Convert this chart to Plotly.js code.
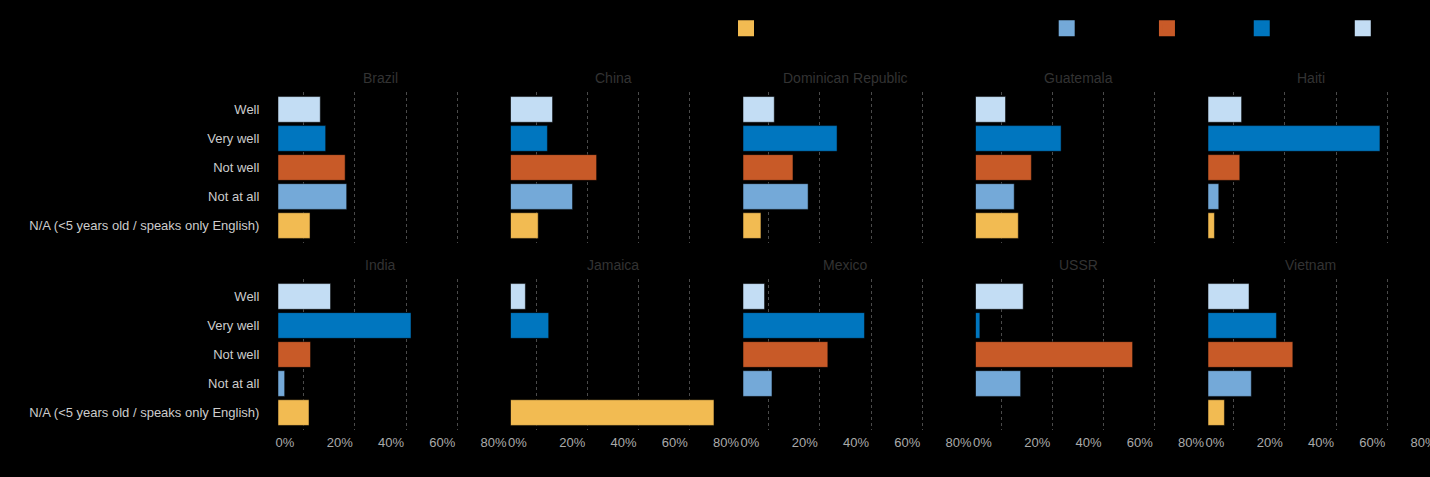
<!DOCTYPE html>
<html>
<head>
<meta charset="utf-8">
<script src="https://cdn.plot.ly/plotly-3.0.1.min.js"></script>
<style>html,body{margin:0;padding:0;background:#000;}#chart{width:1430px;height:477px;}</style>
</head>
<body>
<div id="chart"></div>
<script>
// ---- data (percent of speakers) ----
const countries = ['Brazil','China','Dominican Republic','Guatemala','Haiti','India','Jamaica','Mexico','USSR','Vietnam'];
const categories = ['N/A (<5 years old / speaks only English)','Not at all','Not well','Very well','Well'];
const naVals       = [12.5, 10.8,  7.0, 16.7,  2.5, 12.1, 79.4, null, null,  6.4];
const notAtAllVals = [26.8, 24.2, 25.4, 15.1,  4.2,  2.6, null, 11.3, 17.6, 16.9];
const notWellVals  = [26.2, 33.6, 19.5, 21.8, 12.4, 12.7, null, 33.1, 61.3, 33.1];
const veryWellVals = [18.6, 14.4, 36.7, 33.4, 67.1, 51.9, 14.9, 47.4,  1.7, 26.7];
const wellVals     = [16.5, 16.4, 12.2, 11.7, 13.1, 20.5,  5.8,  8.4, 18.6, 16.0];
const xTickVals = [0, 0.2, 0.4, 0.6, 0.8];
const xTickText = ['0%','20%','40%','60%','80%'];
const xGridVals = [0.1, 0.3, 0.5, 0.7];

const seriesVals = [naVals, notAtAllVals, notWellVals, veryWellVals, wellVals];
const colors = ['#f2bb52', '#74a9d8', '#c85a28', '#0076bf', '#c3ddf4'];

const FONT = 'Liberation Sans, Arial, sans-serif';
const traces = [];
categories.forEach((cat, k) => {
  countries.forEach((c, i) => {
    const v = seriesVals[k][i];
    traces.push({
      type: 'bar', orientation: 'h',
      x: [v == null ? null : v / 100], y: [cat],
      name: cat, legendgroup: cat, showlegend: false,
      xaxis: 'x' + (i === 0 ? '' : i + 1), yaxis: 'y' + (i === 0 ? '' : i + 1),
      marker: {color: colors[k], line: {color: '#000', width: 0.5}},
      hovertemplate: c + '<br>' + cat + ': %{x:.1%}<extra></extra>'
    });
  });
  // legend entry (larger swatch)
  traces.push({
    type: 'bar', orientation: 'h', x: [null], y: [cat],
    name: cat, legendgroup: cat, showlegend: true, hoverinfo: 'skip',
    legend: k === 0 ? 'legend2' : 'legend',
    marker: {color: colors[k], line: {color: colors[k], width: 4}}
  });
});

const colW = 0.18062, colStep = 0.20485;
const rowDom = [[0.5533, 1], [0, 0.4467]];
const legendFont = {family: FONT, size: 14, color: '#000'};
const layout = {
  width: 1430, height: 477,
  paper_bgcolor: '#000', plot_bgcolor: '#000',
  margin: {l: 278, r: 17, t: 92, b: 47},
  barmode: 'relative', bargap: 0.115,
  font: {family: FONT, size: 13, color: '#ccc'},
  showlegend: true,
  legend: {orientation: 'h', xref: 'container', yref: 'container', x: 0.99, xanchor: 'right', y: 0.94, yanchor: 'middle',
           font: legendFont, bgcolor: 'rgba(0,0,0,0)', traceorder: 'normal'},
  legend2: {orientation: 'h', xref: 'container', yref: 'container', x: 0.5077, xanchor: 'left', y: 0.94, yanchor: 'middle',
           font: legendFont, bgcolor: 'rgba(0,0,0,0)', traceorder: 'normal'},
  annotations: [],
  hovermode: 'closest'
};
countries.forEach((c, i) => {
  const row = i < 5 ? 0 : 1, col = i % 5;
  const sfx = i === 0 ? '' : String(i + 1);
  const x0 = col * colStep;
  layout['xaxis' + sfx] = {
    domain: [x0, x0 + colW], anchor: 'y' + sfx, range: [0, 0.8],
    tickvals: xTickVals, ticktext: xTickText, showticklabels: row === 1,
    ticks: 'outside', ticklen: 7, tickcolor: 'rgba(0,0,0,0)',
    ticklabelposition: 'outside right', ticklabelshift: -3, ticklabeloverflow: 'allow',
    tickfont: {family: FONT, size: 13, color: '#aaa'},
    showgrid: false, zeroline: false, showline: false,
    minor: {tickmode: 'array', tickvals: xGridVals, showgrid: true, griddash: 'dot', gridcolor: '#4a4a4a', gridwidth: 1}
  };
  layout['yaxis' + sfx] = {
    domain: rowDom[row], anchor: 'x' + sfx, type: 'category',
    categoryorder: 'array', categoryarray: categories, range: [-0.6, 4.6],
    showticklabels: col === 0, ticks: 'outside', ticklen: 15, tickcolor: 'rgba(0,0,0,0)',
    tickfont: {family: FONT, size: 13, color: '#ccc'},
    showgrid: false, zeroline: false, showline: false
  };
  layout.annotations.push({
    text: c, xref: 'paper', yref: 'paper', x: x0 + colW / 2, y: rowDom[row][1],
    xanchor: 'center', yanchor: 'bottom', yshift: 4, showarrow: false,
    font: {family: FONT, size: 14, color: '#333'}
  });
});
Plotly.newPlot('chart', traces, layout, {displayModeBar: false});
</script>
</body>
</html>
